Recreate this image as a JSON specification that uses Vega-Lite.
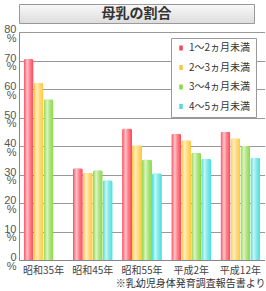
{
  "$schema": "https://vega.github.io/schema/vega-lite/v6.json",
  "padding": {"left": 3, "top": 3, "right": 0, "bottom": 0},
  "autosize": {"type": "pad"},
  "background": "white",
  "config": {"font": "Noto Sans CJK JP", "view": {"stroke": null}},
  "bounds": "flush",
  "spacing": 9,
  "vconcat": [
    {
      "width": 235,
      "height": 19,
      "data": {"values": [{"title": "母乳の割合"}]},
      "view": {
        "fill": {"gradient": "linear", "x1": 0, "y1": 0, "x2": 0, "y2": 1, "stops": [{"offset": 0, "color": "#f8f8f8"}, {"offset": 1, "color": "#dcdcdc"}]},
        "stroke": "#999999",
        "strokeWidth": 1
      },
      "mark": {"type": "text", "fontSize": 14, "fontWeight": "bold", "color": "#333333", "baseline": "middle"},
      "encoding": {"text": {"field": "title"}}
    },
    {
      "width": 246,
      "height": 228,
      "data": {
        "values": [
          {"year": "昭和35年", "age": "1～2ヵ月未満", "pct": 70.5},
          {"year": "昭和35年", "age": "2～3ヵ月未満", "pct": 62.2},
          {"year": "昭和35年", "age": "3～4ヵ月未満", "pct": 56.4},
          {"year": "昭和45年", "age": "1～2ヵ月未満", "pct": 32.2},
          {"year": "昭和45年", "age": "2～3ヵ月未満", "pct": 30.6},
          {"year": "昭和45年", "age": "3～4ヵ月未満", "pct": 31.5},
          {"year": "昭和45年", "age": "4～5ヵ月未満", "pct": 28.0},
          {"year": "昭和55年", "age": "1～2ヵ月未満", "pct": 46.1},
          {"year": "昭和55年", "age": "2～3ヵ月未満", "pct": 40.3},
          {"year": "昭和55年", "age": "3～4ヵ月未満", "pct": 35.3},
          {"year": "昭和55年", "age": "4～5ヵ月未満", "pct": 30.4},
          {"year": "平成2年", "age": "1～2ヵ月未満", "pct": 44.3},
          {"year": "平成2年", "age": "2～3ヵ月未満", "pct": 42.0},
          {"year": "平成2年", "age": "3～4ヵ月未満", "pct": 37.6},
          {"year": "平成2年", "age": "4～5ヵ月未満", "pct": 35.5},
          {"year": "平成12年", "age": "1～2ヵ月未満", "pct": 45.0},
          {"year": "平成12年", "age": "2～3ヵ月未満", "pct": 42.7},
          {"year": "平成12年", "age": "3～4ヵ月未満", "pct": 40.0},
          {"year": "平成12年", "age": "4～5ヵ月未満", "pct": 35.9}
        ]
      },
      "encoding": {
        "x": {
          "field": "year",
          "type": "nominal",
          "sort": ["昭和35年", "昭和45年", "昭和55年", "平成2年", "平成12年"],
          "scale": {"paddingInner": 0.19, "paddingOuter": 0.095},
          "axis": {
            "labelAngle": 0,
            "ticks": false,
            "labelFontSize": 10,
            "labelColor": "#444444",
            "domainColor": "#888888",
            "labelPadding": 5,
            "title": "※乳幼児身体発育調査報告書より",
            "titleAnchor": "end",
            "titleFontSize": 10,
            "titleFontWeight": "normal",
            "titleColor": "#333333",
            "titlePadding": 3
          }
        },
        "xOffset": {
          "field": "age",
          "type": "nominal",
          "sort": ["1～2ヵ月未満", "2～3ヵ月未満", "3～4ヵ月未満", "4～5ヵ月未満"],
          "scale": {"paddingInner": 0, "paddingOuter": 0}
        },
        "y": {
          "field": "pct",
          "type": "quantitative",
          "scale": {"domain": [0, 80]},
          "axis": {
            "values": [0, 10, 20, 30, 40, 50, 60, 70, 80],
            "labelExpr": "[datum.label, '%']",
            "labelFont": "Liberation Sans",
            "labelFontSize": 11,
            "labelLineHeight": 8.5,
            "labelOffset": -2.5,
            "labelColor": "#555555",
            "ticks": false,
            "domainColor": "#888888",
            "gridColor": "#999999",
            "labelPadding": 3,
            "title": null
          }
        }
      },
      "layer": [
        {
          "mark": {"type": "bar", "cornerRadiusTopLeft": 2, "cornerRadiusTopRight": 2},
          "encoding": {
            "color": {
              "field": "age",
              "type": "nominal",
              "sort": ["1～2ヵ月未満", "2～3ヵ月未満", "3～4ヵ月未満", "4～5ヵ月未満"],
              "scale": {"range": ["#ff4455", "#ffc83a", "#8ad844", "#48dede"]},
              "legend": {
                "title": null,
                "orient": "none",
                "legendX": 152,
                "legendY": 34,
                "fillColor": "white",
                "strokeColor": "#999999",
                "padding": 5,
                "rowPadding": 9.5,
                "symbolType": "M-0.35,-0.5H0.35V0.5H-0.35Z",
                "symbolSize": 100,
                "symbolStrokeWidth": 0,
                "labelFontSize": 10,
                "labelColor": "#333333",
                "labelOffset": 3
              }
            }
          }
        },
        {
          "mark": {
            "type": "bar",
            "cornerRadiusTopLeft": 2,
            "cornerRadiusTopRight": 2,
            "fill": {"gradient": "linear", "x1": 0, "y1": 0, "x2": 1, "y2": 0, "stops": [
              {"offset": 0, "color": "rgba(255,255,255,0)"},
              {"offset": 0.35, "color": "rgba(255,255,255,0.7)"},
              {"offset": 0.6, "color": "rgba(255,255,255,0.35)"},
              {"offset": 1, "color": "rgba(255,255,255,0)"}
            ]}
          }
        }
      ]
    }
  ]
}
